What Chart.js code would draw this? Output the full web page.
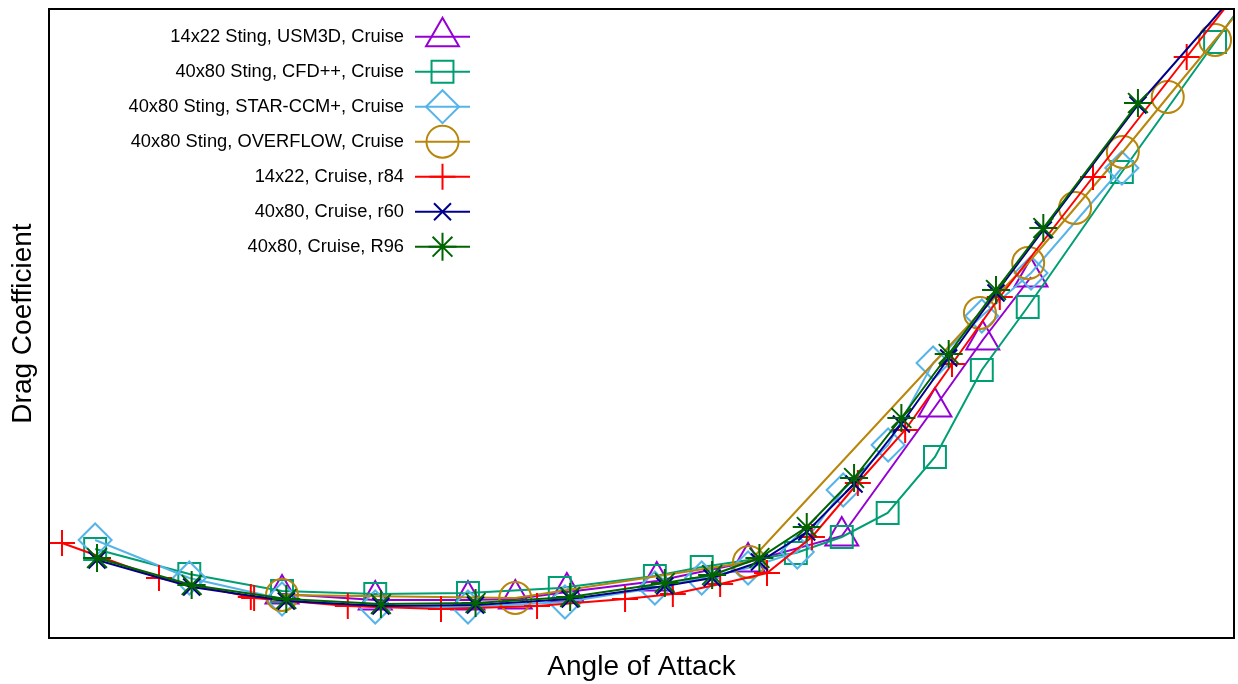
<!DOCTYPE html>
<html>
<head>
<meta charset="utf-8">
<script src="https://cdn.jsdelivr.net/npm/chart.js@4/dist/chart.umd.min.js"></script>
<style>
  html, body { margin: 0; padding: 0; background: #fff; }
  #wrap { width: 1238px; height: 684px; }
</style>
</head>
<body>
<div id="wrap"><canvas id="c" width="1238" height="684"></canvas></div>
<script>
// Angle of attack (deg) and drag coefficient for each run
const usm3dAlpha = [-0.09, 1.88, 3.84, 4.84, 5.93, 7.83, 9.76, 11.74, 13.71, 14.72, 15.74];
const usm3dCD    = [0.043, 0.037, 0.037, 0.038, 0.045, 0.056, 0.075, 0.101, 0.230, 0.297, 0.360];

const cfdAlpha = [-4.04, -2.05, -0.09, 1.88, 3.84, 5.78, 7.79, 8.78, 10.77, 11.74, 12.71, 13.71, 14.70, 15.67, 17.66, 19.63, 21.6];
const cfdCD    = [0.088, 0.063, 0.046, 0.043, 0.044, 0.049, 0.061, 0.070, 0.084, 0.100, 0.124, 0.180, 0.267, 0.330, 0.465, 0.595, 0.725];

const starAlpha = [-4.04, -2.05, -0.09, 1.88, 3.84, 5.89, 7.79, 8.78, 9.76, 10.80, 11.77, 12.72, 13.67, 14.70, 15.74, 17.66];
const starCD    = [0.097, 0.059, 0.038, 0.030, 0.030, 0.035, 0.049, 0.059, 0.069, 0.085, 0.147, 0.192, 0.274, 0.321, 0.364, 0.469];

const overflowAlpha = [-0.09, 4.84, 9.78, 14.66, 15.68, 16.67, 17.68, 18.63, 19.63, 20.63];
const overflowCD    = [0.042, 0.039, 0.075, 0.324, 0.374, 0.429, 0.485, 0.540, 0.597, 0.654];

const r84Alpha = [-4.74, -2.69, -0.75, -0.68, 1.30, 3.27, 5.30, 7.16, 8.17, 9.17, 10.16, 11.11, 12.08, 13.08, 14.07, 15.08, 17.05, 19.03, 21.0];
const r84CD    = [0.094, 0.059, 0.040, 0.039, 0.031, 0.028, 0.031, 0.038, 0.043, 0.053, 0.064, 0.100, 0.154, 0.207, 0.273, 0.340, 0.460, 0.580, 0.699];

const r60Alpha = [-4, -2, 0, 2, 4, 6, 8, 9, 10, 11, 12, 13, 14, 15, 16, 18, 20];
const r60CD    = [0.077, 0.050, 0.036, 0.031, 0.032, 0.038, 0.051, 0.059, 0.075, 0.105, 0.153, 0.213, 0.279, 0.344, 0.407, 0.532, 0.640];

const r96Alpha = [-4, -2, 0, 2, 4, 6, 8, 9, 10, 11, 12, 13, 14, 15, 16, 18];
const r96CD    = [0.079, 0.052, 0.038, 0.033, 0.034, 0.040, 0.054, 0.062, 0.079, 0.110, 0.159, 0.219, 0.283, 0.347, 0.409, 0.534];

const seriesLabels = [
  '14x22 Sting, USM3D, Cruise',
  '40x80 Sting, CFD++, Cruise',
  '40x80 Sting, STAR-CCM+, Cruise',
  '40x80 Sting, OVERFLOW, Cruise',
  '14x22, Cruise, r84',
  '40x80, Cruise, r60',
  '40x80, Cruise, R96'
];

const FONT = '"Liberation Sans", Arial, Helvetica, sans-serif';

function pts(xs, ys) { return xs.map((x, i) => ({ x: x, y: ys[i] })); }

const styles = [
  { color: '#9400D3', shape: 'triangle', r: 19, order: 6 },
  { color: '#009E73', shape: 'rect',     r: 15.5, order: 5 },
  { color: '#56B4E9', shape: 'rectRot',  r: 16.5, order: 4 },
  { color: '#B8860B', shape: 'circle',   r: 16, order: 3 },
  { color: '#FF0000', shape: 'cross',    r: 13, order: 2 },
  { color: '#00008B', shape: 'crossRot', r: 12, order: 1 },
  { color: '#006400', shape: 'star',     r: 14, order: 0 }
];

const seriesData = [
  pts(usm3dAlpha, usm3dCD),
  pts(cfdAlpha, cfdCD),
  pts(starAlpha, starCD),
  pts(overflowAlpha, overflowCD),
  pts(r84Alpha, r84CD),
  pts(r60Alpha, r60CD),
  pts(r96Alpha, r96CD)
];

const datasets = seriesData.map((d, i) => ({
  label: seriesLabels[i],
  data: d,
  borderColor: styles[i].color,
  borderWidth: 2,
  pointStyle: styles[i].shape,
  pointRadius: styles[i].r,
  pointHoverRadius: styles[i].r,
  pointBorderWidth: 2,
  pointBorderColor: styles[i].color,
  pointBackgroundColor: 'rgba(0,0,0,0)',
  tension: 0,
  fill: false,
  order: styles[i].order
}));

// hollow marker drawn with the same geometry Chart.js uses
function drawMarker(ctx, shape, x, y, r) {
  ctx.beginPath();
  switch (shape) {
    case 'triangle':
      for (let k = 0; k < 3; k++) {
        const a = k * 2 * Math.PI / 3;
        const px = x + Math.sin(a) * r, py = y - Math.cos(a) * r;
        if (k === 0) ctx.moveTo(px, py); else ctx.lineTo(px, py);
      }
      ctx.closePath();
      break;
    case 'rect': {
      const s = Math.SQRT1_2 * r;
      ctx.rect(x - s, y - s, 2 * s, 2 * s);
      break;
    }
    case 'rectRot':
      ctx.moveTo(x - r, y); ctx.lineTo(x, y - r); ctx.lineTo(x + r, y); ctx.lineTo(x, y + r);
      ctx.closePath();
      break;
    case 'circle':
      ctx.arc(x, y, r, 0, Math.PI * 2);
      break;
    case 'cross':
      ctx.moveTo(x, y - r); ctx.lineTo(x, y + r);
      ctx.moveTo(x - r, y); ctx.lineTo(x + r, y);
      break;
    case 'crossRot': {
      const d = r * Math.SQRT1_2;
      ctx.moveTo(x - d, y - d); ctx.lineTo(x + d, y + d);
      ctx.moveTo(x - d, y + d); ctx.lineTo(x + d, y - d);
      break;
    }
    case 'star': {
      const d = r * Math.SQRT1_2;
      ctx.moveTo(x, y - r); ctx.lineTo(x, y + r);
      ctx.moveTo(x - r, y); ctx.lineTo(x + r, y);
      ctx.moveTo(x - d, y - d); ctx.lineTo(x + d, y + d);
      ctx.moveTo(x - d, y + d); ctx.lineTo(x + d, y - d);
      break;
    }
  }
  ctx.stroke();
}

// frame around the plot plus the key in the upper left
const framePlugin = {
  id: 'frameAndKey',
  afterDraw(chart) {
    const { ctx, chartArea: a } = chart;
    ctx.save();
    ctx.strokeStyle = '#000';
    ctx.lineWidth = 2;
    ctx.strokeRect(a.left, a.top, a.right - a.left, a.bottom - a.top);

    const rowTop = 36.7, rowStep = 35;
    ctx.font = '18.3px ' + FONT;
    ctx.textAlign = 'right';
    ctx.textBaseline = 'middle';
    seriesLabels.forEach((lab, i) => {
      const y = rowTop + i * rowStep;
      const st = styles[i];
      ctx.fillStyle = '#000';
      ctx.fillText(lab, 404, y);
      ctx.strokeStyle = st.color;
      ctx.lineWidth = 2;
      ctx.beginPath();
      ctx.moveTo(415, y); ctx.lineTo(470, y);
      ctx.stroke();
      drawMarker(ctx, st.shape, 442.5, y, st.r);
    });
    ctx.restore();
  }
};

new Chart(document.getElementById('c'), {
  type: 'line',
  data: { datasets: datasets },
  options: {
    responsive: false,
    animation: false,
    devicePixelRatio: 1,
    layout: { autoPadding: false, padding: { top: 9, right: 4, left: 0, bottom: 0 } },
    plugins: { legend: { display: false }, tooltip: { enabled: false } },
    scales: {
      x: {
        type: 'linear',
        min: -5.015,
        max: 20.03,
        grid: { display: false },
        border: { display: false },
        ticks: { display: false },
        afterFit(s) { s.height = 46; },
        title: {
          display: true,
          text: 'Angle of Attack',
          color: '#000',
          font: { family: FONT, size: 28 },
          padding: { top: 0, bottom: 0 }
        }
      },
      y: {
        type: 'linear',
        min: -0.001,
        max: 0.628,
        grid: { display: false },
        border: { display: false },
        ticks: { display: false },
        afterFit(s) { s.width = 49; },
        title: {
          display: true,
          text: 'Drag Coefficient',
          color: '#000',
          font: { family: FONT, size: 28 },
          padding: { top: 6, bottom: 0 }
        }
      }
    }
  },
  plugins: [framePlugin]
});
</script>
</body>
</html>
